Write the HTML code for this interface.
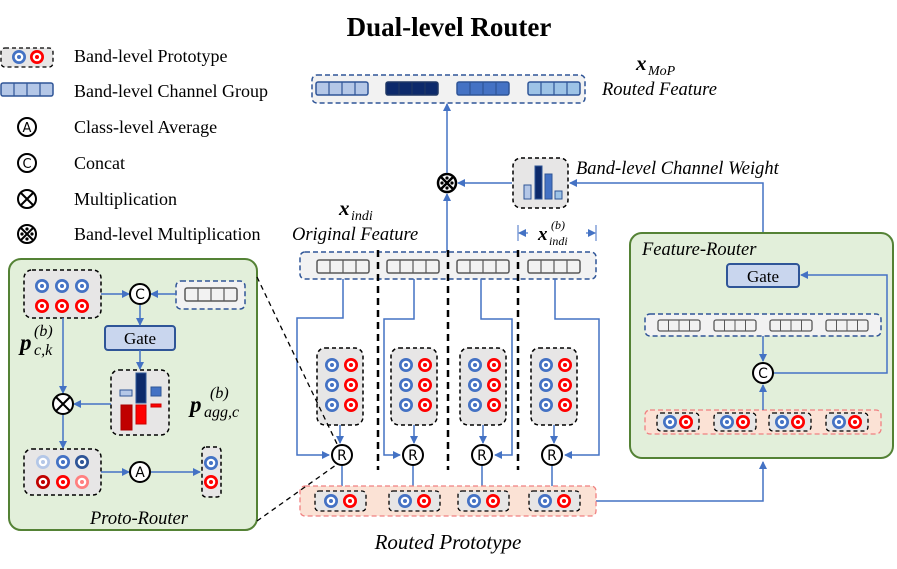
<!DOCTYPE html>
<html><head><meta charset="utf-8"><style>
html,body{margin:0;padding:0;background:#fff}
svg{display:block}
text{font-family:"Liberation Serif",serif;fill:#000}
.it{font-style:italic}
.c{font-family:"DejaVu Sans","Liberation Sans",sans-serif}
</style></head><body>
<svg width="897" height="569" viewBox="0 0 897 569" xmlns="http://www.w3.org/2000/svg">
<defs>
<marker id="ar" markerWidth="8" markerHeight="8" refX="7" refY="4" orient="auto" markerUnits="userSpaceOnUse"><path d="M0,0 L8,4 L0,8 z" fill="#4472c4"/></marker>
<symbol id="pb" overflow="visible"><circle r="7" fill="#4472c4"/><circle r="4.3" fill="#fff"/><circle r="2" fill="#4472c4"/></symbol>
<symbol id="pr" overflow="visible"><circle r="7" fill="#ff0000"/><circle r="4.3" fill="#fff"/><circle r="2" fill="#ff0000"/></symbol>
<symbol id="cg" overflow="visible"><rect x="0" y="0" width="52" height="13" rx="2" stroke-width="1.5"/><path d="M13,0V13M26,0V13M39,0V13" fill="none" stroke-width="1.2"/></symbol>
<symbol id="cgs" overflow="visible"><rect x="0" y="0" width="42" height="11" rx="2" stroke-width="1.3"/><path d="M10.5,0V11M21,0V11M31.5,0V11" fill="none" stroke-width="1"/></symbol>
</defs>

<text x="449" y="36" font-size="27" font-weight="bold" text-anchor="middle">Dual-level Router</text>

<!-- legend -->
<rect x="1" y="48" width="52" height="19" rx="4" fill="#e7e6e6" stroke="#000" stroke-dasharray="4,3" stroke-width="1.3"/>
<use href="#pb" x="19" y="57"/><use href="#pr" x="37" y="57"/>
<use href="#cg" x="1" y="83" fill="#b4c7e7" stroke="#2f5597"/>
<g fill="none" stroke="#000" stroke-width="2">
<circle cx="27" cy="127" r="9"/><circle cx="27" cy="163" r="9"/><circle cx="27" cy="199" r="9"/><circle cx="27" cy="234" r="9"/>
<path d="M21,193 L33,205 M33,193 L21,205"/>
<path d="M21,228 L33,240 M33,228 L21,240"/>
</g>
<text x="27" y="132" font-size="13" text-anchor="middle" class="c">A</text>
<text x="27" y="168" font-size="13" text-anchor="middle" class="c">C</text>
<g fill="#000"><circle cx="27" cy="229" r="1.6"/><circle cx="27" cy="239" r="1.6"/><circle cx="22" cy="234" r="1.6"/><circle cx="32" cy="234" r="1.6"/></g>
<g font-size="18">
<text x="74" y="62">Band-level Prototype</text>
<text x="74" y="97">Band-level Channel Group</text>
<text x="74" y="133">Class-level Average</text>
<text x="74" y="169">Concat</text>
<text x="74" y="205">Multiplication</text>
<text x="74" y="240">Band-level Multiplication</text>
</g>

<!-- routed feature -->
<rect x="312" y="75" width="273" height="28" rx="5" fill="#f2f2f2" stroke="#2f5597" stroke-dasharray="5,3" stroke-width="1.5"/>
<use href="#cg" x="316" y="82" fill="#b4c7e7" stroke="#2f5597"/>
<use href="#cg" x="386" y="82" fill="#0d2a6b" stroke="#203864"/>
<use href="#cg" x="457" y="82" fill="#4472c4" stroke="#2f5597"/>
<use href="#cg" x="528" y="82" fill="#9dc3e6" stroke="#2f5597"/>
<text x="636" y="70" font-size="21" font-weight="bold" class="it">x</text>
<text x="648" y="75" font-size="14" class="it">MoP</text>
<text x="602" y="95" font-size="18.5" class="it">Routed Feature</text>

<!-- band mult -->
<g fill="none" stroke="#000" stroke-width="2.5"><circle cx="447" cy="183" r="9"/><path d="M441,177 L453,189 M453,177 L441,189"/></g>
<g fill="#000"><circle cx="447" cy="178" r="1.6"/><circle cx="447" cy="188" r="1.6"/><circle cx="442" cy="183" r="1.6"/><circle cx="452" cy="183" r="1.6"/></g>
<g stroke="#4472c4" stroke-width="1.5" fill="none">
<path d="M447,173 V104" marker-end="url(#ar)"/>
<path d="M447,252 V194" marker-end="url(#ar)"/>
<path d="M512,183 H458" marker-end="url(#ar)"/>
<path d="M763,262 V183 H570" marker-end="url(#ar)"/>
<path d="M518,225 V241 M596,225 V241" stroke-width="1"/>
<path d="M528,233 H519" marker-end="url(#ar)" stroke-width="1.2"/>
<path d="M586,233 H595" marker-end="url(#ar)" stroke-width="1.2"/>
</g>
<rect x="513" y="158" width="55" height="50" rx="8" fill="#e7e6e6" stroke="#000" stroke-dasharray="4,3" stroke-width="1.5"/>
<rect x="524" y="185" width="7" height="14" fill="#b4c7e7" stroke="#2f5597"/>
<rect x="535" y="166" width="7" height="33" fill="#0d2a6b" stroke="#2f5597"/>
<rect x="545" y="174" width="7" height="25" fill="#4472c4" stroke="#2f5597"/>
<rect x="555" y="191" width="7" height="8" fill="#9dc3e6" stroke="#2f5597"/>
<text x="576" y="174" font-size="18.5" class="it">Band-level Channel Weight</text>

<text x="339" y="215" font-size="21" font-weight="bold" class="it">x</text>
<text x="351" y="220" font-size="14" class="it">indi</text>
<text x="292" y="240" font-size="18.5" class="it">Original Feature</text>
<text x="538" y="240" font-size="19" font-weight="bold" class="it">x</text>
<text x="549" y="245" font-size="12" class="it">indi</text>
<text x="551" y="229" font-size="12" class="it">(b)</text>

<!-- original feature bar -->
<rect x="300" y="252" width="296" height="27" rx="5" fill="#f2f2f2" stroke="#2f5597" stroke-dasharray="5,3" stroke-width="1.5"/>
<use href="#cg" x="317" y="260" fill="#f2f2f2" stroke="#595959"/>
<use href="#cg" x="387" y="260" fill="#f2f2f2" stroke="#595959"/>
<use href="#cg" x="457" y="260" fill="#f2f2f2" stroke="#595959"/>
<use href="#cg" x="528" y="260" fill="#f2f2f2" stroke="#595959"/>
<g stroke="#000" stroke-width="2.5" stroke-dasharray="7,5"><path d="M378,250 V470 M448,250 V470 M518,250 V470"/></g>

<g stroke="#4472c4" stroke-width="1.5" fill="none">
<path d="M343,279 V318 H297 V455 H329" marker-end="url(#ar)"/>
<path d="M414,279 V319 H384 V455 H400" marker-end="url(#ar)"/>
<path d="M481,279 V319 H512 V455 H495" marker-end="url(#ar)"/>
<path d="M555,279 V319 H599 V455 H565" marker-end="url(#ar)"/>
<path d="M340,425 V443" marker-end="url(#ar)"/><path d="M414,425 V443" marker-end="url(#ar)"/><path d="M483,425 V443" marker-end="url(#ar)"/><path d="M554,425 V443" marker-end="url(#ar)"/>
<path d="M342,466 V493" marker-end="url(#ar)"/><path d="M413,466 V493" marker-end="url(#ar)"/><path d="M482,466 V493" marker-end="url(#ar)"/><path d="M552,466 V493" marker-end="url(#ar)"/>
<path d="M596,501 H763 V462" marker-end="url(#ar)"/>
</g>

<g id="pbx">
<rect x="317" y="348" width="46" height="77" rx="8" fill="#e7e6e6" stroke="#000" stroke-dasharray="4,3" stroke-width="1.5"/>
<use href="#pb" x="332" y="365"/><use href="#pr" x="351" y="365"/>
<use href="#pb" x="332" y="385"/><use href="#pr" x="351" y="385"/>
<use href="#pb" x="332" y="405"/><use href="#pr" x="351" y="405"/>
</g>
<use href="#pbx" x="74"/><use href="#pbx" x="143"/><use href="#pbx" x="214"/>

<g fill="#fff" stroke="#000" stroke-width="2">
<circle cx="342" cy="455" r="10"/><circle cx="413" cy="455" r="10"/><circle cx="482" cy="455" r="10"/><circle cx="552" cy="455" r="10"/>
</g>
<g font-size="14" text-anchor="middle">
<text x="342" y="460" class="c">R</text><text x="413" y="460" class="c">R</text><text x="482" y="460" class="c">R</text><text x="552" y="460" class="c">R</text>
</g>

<rect x="300" y="486" width="296" height="30" rx="5" fill="#fbe2d5" stroke="#f08080" stroke-dasharray="5,3" stroke-width="1.3"/>
<g id="sp">
<rect x="315" y="491" width="51" height="20" rx="4" fill="#e7e6e6" stroke="#000" stroke-dasharray="4,3" stroke-width="1.3"/>
<use href="#pb" x="331" y="501"/><use href="#pr" x="350" y="501"/>
</g>
<use href="#sp" x="74"/><use href="#sp" x="143"/><use href="#sp" x="214"/>
<text x="448" y="549" font-size="21" class="it" text-anchor="middle">Routed Prototype</text>

<!-- feature router -->
<rect x="630" y="233" width="263" height="225" rx="12" fill="#e2efda" stroke="#548235" stroke-width="2"/>
<text x="642" y="255" font-size="18.5" class="it">Feature-Router</text>
<rect x="727" y="264" width="72" height="23" rx="3" fill="#c9d6ee" stroke="#2f5597" stroke-width="2"/>
<text x="763" y="282" font-size="17" text-anchor="middle">Gate</text>
<rect x="645" y="314" width="236" height="22" rx="5" fill="#f2f2f2" stroke="#2f5597" stroke-dasharray="5,3" stroke-width="1.5"/>
<use href="#cgs" x="658" y="320" fill="#f2f2f2" stroke="#595959"/>
<use href="#cgs" x="714" y="320" fill="#f2f2f2" stroke="#595959"/>
<use href="#cgs" x="770" y="320" fill="#f2f2f2" stroke="#595959"/>
<use href="#cgs" x="826" y="320" fill="#f2f2f2" stroke="#595959"/>
<rect x="645" y="410" width="236" height="24" rx="5" fill="#fbe2d5" stroke="#f08080" stroke-dasharray="5,3" stroke-width="1.3"/>
<g id="sp2">
<rect x="657" y="413" width="42" height="18" rx="4" fill="#e7e6e6" stroke="#000" stroke-dasharray="4,3" stroke-width="1.3"/>
<use href="#pb" x="670" y="422"/><use href="#pr" x="686" y="422"/>
</g>
<use href="#sp2" x="57"/><use href="#sp2" x="112"/><use href="#sp2" x="169"/>
<g stroke="#4472c4" stroke-width="1.5" fill="none">
<path d="M763,336 V361" marker-end="url(#ar)"/>
<path d="M763,410 V385" marker-end="url(#ar)"/>
<path d="M773,373 H887 V275 H801" marker-end="url(#ar)"/>
</g>
<circle cx="763" cy="373" r="10" fill="#fff" stroke="#000" stroke-width="2"/>
<text x="763" y="378" font-size="14" class="c" text-anchor="middle">C</text>

<!-- proto router -->
<rect x="9" y="259" width="248" height="271" rx="12" fill="#e2efda" stroke="#548235" stroke-width="2"/>
<rect x="24" y="270" width="77" height="48" rx="8" fill="#e7e6e6" stroke="#000" stroke-dasharray="4,3" stroke-width="1.5"/>
<use href="#pb" x="42" y="286"/><use href="#pb" x="62" y="286"/><use href="#pb" x="82" y="286"/>
<use href="#pr" x="42" y="306"/><use href="#pr" x="62" y="306"/><use href="#pr" x="82" y="306"/>
<rect x="176" y="281" width="69" height="28" rx="5" fill="#f2f2f2" stroke="#2f5597" stroke-dasharray="5,3" stroke-width="1.5"/>
<use href="#cg" x="185" y="288" fill="#f2f2f2" stroke="#595959"/>
<rect x="105" y="326" width="70" height="24" rx="3" fill="#c9d6ee" stroke="#2f5597" stroke-width="2"/>
<text x="140" y="344" font-size="17" text-anchor="middle">Gate</text>
<rect x="111" y="370" width="58" height="65" rx="8" fill="#e7e6e6" stroke="#000" stroke-dasharray="4,3" stroke-width="1.5"/>
<rect x="120" y="390" width="12" height="6" fill="#b4c7e7" stroke="#2f5597"/>
<rect x="136" y="373" width="10" height="30" fill="#0d2a6b" stroke="#2f5597"/>
<rect x="151" y="387" width="10" height="9" fill="#4472c4" stroke="#2f5597"/>
<rect x="121" y="405" width="11" height="25" fill="#c00000" stroke="#a00"/>
<rect x="136" y="405" width="10" height="19" fill="#ff0000" stroke="#c00"/>
<rect x="151" y="404" width="10" height="3" fill="#ff0000" stroke="#c00"/>
<rect x="24" y="449" width="77" height="46" rx="8" fill="#e7e6e6" stroke="#000" stroke-dasharray="4,3" stroke-width="1.5"/>
<g><circle cx="43" cy="462" r="7" fill="#b4c7e7"/><circle cx="43" cy="462" r="4.3" fill="#fff"/><circle cx="43" cy="462" r="2" fill="#b4c7e7"/></g>
<use href="#pb" x="63" y="462"/>
<g><circle cx="82" cy="462" r="7" fill="#2f5597"/><circle cx="82" cy="462" r="4.3" fill="#fff"/><circle cx="82" cy="462" r="2" fill="#2f5597"/></g>
<g><circle cx="43" cy="482" r="7" fill="#c00000"/><circle cx="43" cy="482" r="4.3" fill="#fff"/><circle cx="43" cy="482" r="2" fill="#c00000"/></g>
<use href="#pr" x="63" y="482"/>
<g><circle cx="82" cy="482" r="7" fill="#ff8080"/><circle cx="82" cy="482" r="4.3" fill="#fff"/><circle cx="82" cy="482" r="2" fill="#ff8080"/></g>
<rect x="202" y="447" width="19" height="50" rx="4" fill="#e7e6e6" stroke="#000" stroke-dasharray="4,3" stroke-width="1.5"/>
<use href="#pb" x="211" y="463"/><use href="#pr" x="211" y="482"/>
<g stroke="#4472c4" stroke-width="1.5" fill="none">
<path d="M101,294 H129" marker-end="url(#ar)"/>
<path d="M176,294 H151" marker-end="url(#ar)"/>
<path d="M140,305 V325" marker-end="url(#ar)"/>
<path d="M140,350 V369" marker-end="url(#ar)"/>
<path d="M63,318 V393" marker-end="url(#ar)"/>
<path d="M111,404 H74" marker-end="url(#ar)"/>
<path d="M63,415 V448" marker-end="url(#ar)"/>
<path d="M101,472 H129" marker-end="url(#ar)"/>
<path d="M151,472 H200" marker-end="url(#ar)"/>
</g>
<g fill="#fff" stroke="#000" stroke-width="2">
<circle cx="140" cy="294" r="10"/><circle cx="140" cy="472" r="10"/><circle cx="63" cy="404" r="10"/>
</g>
<path d="M56,397 L70,411 M70,397 L56,411" stroke="#000" stroke-width="2"/>
<text x="140" y="299" font-size="14" class="c" text-anchor="middle">C</text>
<text x="140" y="477" font-size="14" class="c" text-anchor="middle">A</text>
<text x="20" y="350" font-size="23" font-weight="bold" class="it">p</text>
<text x="34" y="355" font-size="16" class="it">c,k</text>
<text x="34" y="336" font-size="16" class="it">(b)</text>
<text x="190" y="412" font-size="23" font-weight="bold" class="it">p</text>
<text x="204" y="417" font-size="16" class="it">agg,c</text>
<text x="210" y="398" font-size="16" class="it">(b)</text>
<text x="90" y="524" font-size="18.5" class="it">Proto-Router</text>

<g stroke="#000" stroke-width="1.3" stroke-dasharray="5,4" fill="none">
<path d="M257,277 L338,446"/>
<path d="M257,521 L336,465"/>
</g>
</svg>
</body></html>
